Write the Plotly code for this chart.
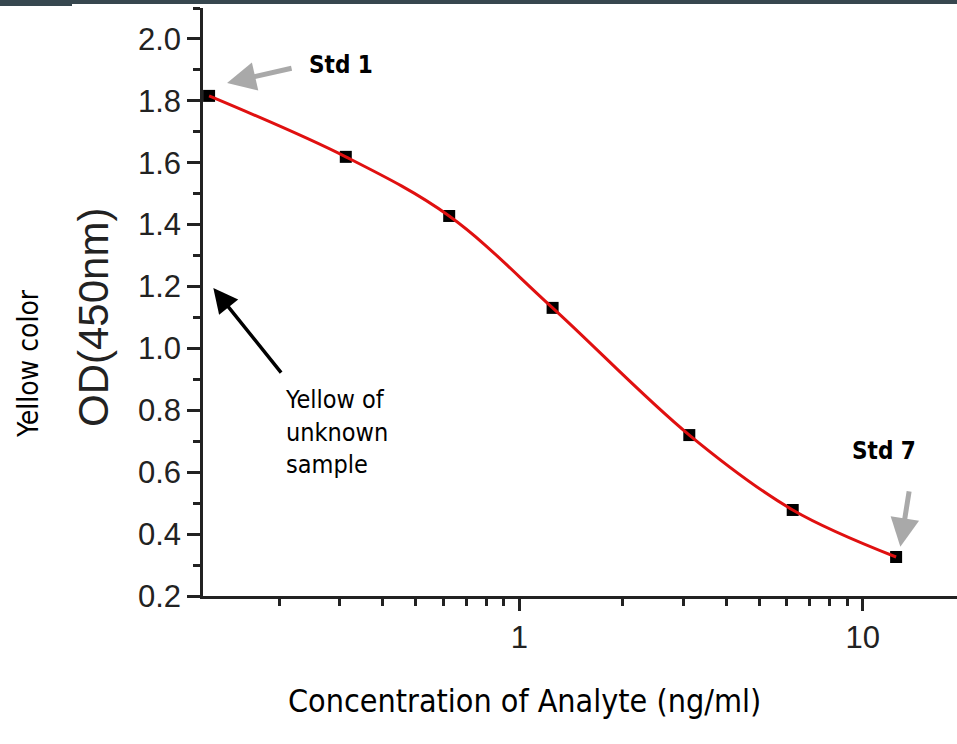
import plotly.graph_objects as go
import math

# Data
concentration = [0.125, 0.3125, 0.625, 1.25, 3.125, 6.25, 12.5]
od450 = [1.816, 1.619, 1.428, 1.131, 0.720, 0.478, 0.326]

y_ticks = [0.2, 0.4, 0.6, 0.8, 1.0, 1.2, 1.4, 1.6, 1.8, 2.0]
y_tick_labels = ["0.2", "0.4", "0.6", "0.8", "1.0", "1.2", "1.4", "1.6", "1.8", "2.0"]
x_ticks = [1, 10]
x_tick_labels = ["1", "10"]
x_minor = [0.2, 0.3, 0.4, 0.5, 0.6, 0.7, 0.8, 0.9, 2, 3, 4, 5, 6, 7, 8, 9]

W, H = 957, 744
L, R, T, B = 203, 0, 8, 148

AXIS = "#222222"
NARROW = "DejaVu Sans Condensed, Liberation Sans Narrow, Arial Narrow, sans-serif"
ARIAL = "Liberation Sans, Arial, sans-serif"

fig = go.Figure()

fig.add_trace(go.Scatter(
    x=concentration, y=od450, mode="markers",
    marker=dict(symbol="square", size=12, color="#000000", line=dict(width=0)),
    showlegend=False, hoverinfo="skip"))
fig.add_trace(go.Scatter(
    x=concentration, y=od450, mode="lines",
    line=dict(color="#e01010", width=3, shape="spline", smoothing=1.0),
    showlegend=False))

fig.update_xaxes(
    type="log", range=[math.log10(0.12), math.log10(18.8)],
    showgrid=False, zeroline=False,
    showline=True, linecolor=AXIS, linewidth=2.5,
    ticks="outside", ticklen=12, tickwidth=2.5, tickcolor=AXIS,
    tickvals=x_ticks, ticktext=x_tick_labels,
    tickfont=dict(family=ARIAL, size=31, color="#222222"),
    minor=dict(tickvals=x_minor, ticks="outside", ticklen=7, tickwidth=2.5,
               tickcolor=AXIS, showgrid=False),
)
fig.update_yaxes(
    range=[0.2, 2.1],
    showgrid=False, zeroline=False,
    showline=True, linecolor=AXIS, linewidth=2.5,
    ticks="outside", ticklen=13, tickwidth=2.5, tickcolor=AXIS,
    tickvals=y_ticks, ticktext=y_tick_labels,
    tickfont=dict(family=ARIAL, size=31, color="#222222"),
    minor=dict(dtick=0.1, ticks="outside", ticklen=7, tickwidth=2.5,
               tickcolor=AXIS, showgrid=False),
)

def px_x(p):
    return (p - L) / (W - L - R)

def px_y(p):
    return (H - B - p) / (H - T - B)

def label(text, cx, cy, family, size, color="#000000", angle=0, **kw):
    d = dict(text=text, textangle=angle, xref="paper", yref="paper",
             x=px_x(cx), y=px_y(cy), xanchor="center", yanchor="middle",
             showarrow=False, font=dict(family=family, size=size, color=color))
    d.update(kw)
    return d

annotations = [
    label("OD(450nm)", 93, 318, ARIAL, 42, "#222222", -90),
    label("Yellow color", 28, 364, NARROW, 28, angle=-90),
    label("Concentration of Analyte (ng/ml)", 524, 701, NARROW, 32),
    label("<b>Std 1</b>", 341, 65, NARROW, 24),
    label("<b>Std 7</b>", 884, 451, NARROW, 24),
    dict(text="Yellow of<br>unknown<br>sample", xref="paper", yref="paper",
         x=px_x(283), y=px_y(432), xanchor="left", yanchor="middle", align="left",
         showarrow=False,
         font=dict(family=NARROW, size=25, color="#000000")),
    # arrows
    dict(text="", x=math.log10(0.141), y=1.858, xref="x", yref="y",
         ax=66, ay=-15, showarrow=True, arrowhead=2, arrowsize=1.15,
         arrowwidth=5, arrowcolor="#a9a9a9", standoff=0),
    dict(text="", x=math.log10(12.86), y=0.359, xref="x", yref="y",
         ax=9, ay=-57, showarrow=True, arrowhead=2, arrowsize=1.15,
         arrowwidth=5, arrowcolor="#a9a9a9", standoff=0),
    dict(text="", x=math.log10(0.1286), y=1.195, xref="x", yref="y",
         ax=69, ay=86, showarrow=True, arrowhead=2, arrowsize=1.4,
         arrowwidth=3.5, arrowcolor="#000000", standoff=0),
]

shapes = [
    dict(type="rect", xref="paper", yref="paper",
         x0=px_x(0), x1=px_x(W), y0=px_y(0), y1=px_y(4),
         fillcolor="#37474f", line=dict(width=0), layer="above"),
    dict(type="rect", xref="paper", yref="paper",
         x0=px_x(0), x1=px_x(72), y0=px_y(0), y1=px_y(6),
         fillcolor="#37474f", line=dict(width=0), layer="above"),
]

fig.update_layout(
    width=W, height=H,
    margin=dict(l=L, r=R, t=T, b=B, pad=0),
    paper_bgcolor="white", plot_bgcolor="white",
    annotations=annotations, shapes=shapes,
    showlegend=False,
)

fig.write_html(
    "out.html",
    config={"displayModeBar": False},
    post_script="document.body.style.margin='0';document.body.style.overflow='hidden';",
)
